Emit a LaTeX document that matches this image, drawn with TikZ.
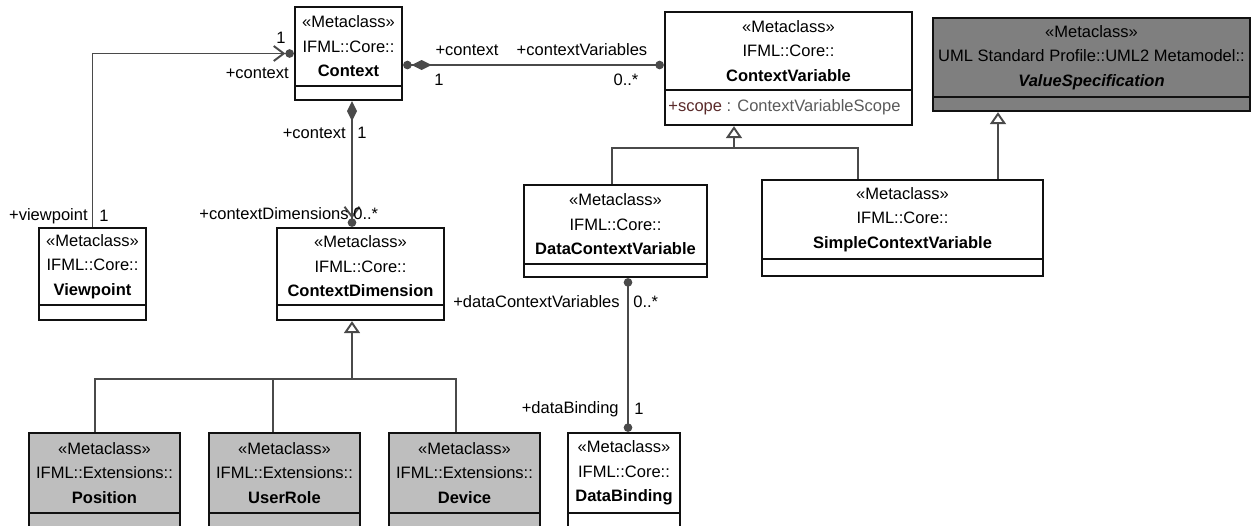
\documentclass[tikz,border=0pt]{standalone}
\usepackage{fontspec}
\setmainfont{Liberation Sans}
\usetikzlibrary{arrows.meta,fit}
\definecolor{ink}{HTML}{111111}
\definecolor{wire}{HTML}{4A4A4A}
\definecolor{extfill}{HTML}{BEBEBE}
\definecolor{umlfill}{HTML}{7F7F7F}
\definecolor{attrkey}{HTML}{5A2A2A}
\definecolor{attrtype}{HTML}{5A5A5A}

\begin{document}
\begin{tikzpicture}[x=0.02cm, y=-0.02cm, font=\fontsize{9.4}{13.9}\selectfont,
    cls/.style={draw=ink, line width=1.3pt, fill=white, inner sep=0pt},
    ext/.style={cls, fill=extfill},
    sep/.style={ink, line width=1.3pt},
    ctext/.style={align=center, inner sep=0pt},
    wirel/.style={wire, line width=1.1pt},
    role/.style={inner sep=0pt}]
  \useasboundingbox (0,0) rectangle (1252,525);
  \clip (0,0) rectangle (1252,525);

  % classes
  \node[cls, fit={(295,7)(402,100)}] (ctx) {};
  \draw[sep] (295,86) -- (402,86);
  \node[ctext] (ctx-t) at (348.5,46.5) {«Metaclass»\\IFML::Core::\\\textbf{Context}};

  \node[cls, fit={(665,12)(912,125)}] (cv) {};
  \draw[sep] (665,90) -- (912,90);
  \node[ctext] (cv-t) at (788.5,51) {«Metaclass»\\IFML::Core::\\\textbf{ContextVariable}};
  \node[ctext, anchor=west] (cv-a) at (668,107.5) {\textcolor{attrkey}{+scope} \textcolor{attrtype}{: ContextVariableScope}};

  \node[cls, fill=umlfill, fit={(933,18)(1250,111)}] (vs) {};
  \draw[sep] (933,97) -- (1250,97);
  \node[ctext] (vs-t) at (1091.5,57.5) {«Metaclass»\\UML Standard Profile::UML2 Metamodel::\\\textbf{\textit{ValueSpecification}}};

  \node[cls, fit={(39,228)(146,320)}] (vp) {};
  \draw[sep] (39,305) -- (146,305);
  \node[ctext] (vp-t) at (92.5,266.5) {«Metaclass»\\IFML::Core::\\\textbf{Viewpoint}};

  \node[cls, fit={(277,228)(444,320)}] (cd) {};
  \draw[sep] (277,305) -- (444,305);
  \node[ctext] (cd-t) at (360.5,266.5) {«Metaclass»\\IFML::Core::\\\textbf{ContextDimension}};

  \node[cls, fit={(524,185)(707,277)}] (dcv) {};
  \draw[sep] (524,264) -- (707,264);
  \node[ctext] (dcv-t) at (615.5,224.5) {«Metaclass»\\IFML::Core::\\\textbf{DataContextVariable}};

  \node[cls, fit={(762,180)(1043,276)}] (scv) {};
  \draw[sep] (762,259) -- (1043,259);
  \node[ctext] (scv-t) at (902.5,219.5) {«Metaclass»\\IFML::Core::\\\textbf{SimpleContextVariable}};

  \node[ext, fit={(29,433)(180,540)}] (pos) {};
  \draw[sep] (29,513) -- (180,513);
  \node[ctext] (pos-t) at (104.5,473) {«Metaclass»\\IFML::Extensions::\\\textbf{Position}};

  \node[ext, fit={(209,433)(360,540)}] (ur) {};
  \draw[sep] (209,513) -- (360,513);
  \node[ctext] (ur-t) at (284.5,473) {«Metaclass»\\IFML::Extensions::\\\textbf{UserRole}};

  \node[ext, fit={(389,433)(540,540)}] (dev) {};
  \draw[sep] (389,513) -- (540,513);
  \node[ctext] (dev-t) at (464.5,473) {«Metaclass»\\IFML::Extensions::\\\textbf{Device}};

  \node[cls, fit={(568,433)(680,540)}] (db) {};
  \draw[sep] (568,513) -- (680,513);
  \node[ctext] (db-t) at (624,473) {«Metaclass»\\IFML::Core::\\\textbf{DataBinding}};

  % associations
  \coordinate (cvy) at (0,65);
  \coordinate (cdx) at (352,0);
  \coordinate (dbx) at (628,0);
  \draw[wirel, -{Straight Barb[length=0.2cm,width=0.3cm] Circle[length=0.17cm]}] (vp.north) |- (ctx.west);
  \draw[wirel, {Circle[length=0.17cm] Diamond[length=0.4cm,width=0.2cm]}-{Circle[length=0.17cm]}] (ctx.east |- cvy) -- (cv.west |- cvy);
  \draw[wirel, {Diamond[length=0.4cm,width=0.2cm]}-{Straight Barb[length=0.2cm,width=0.3cm] Circle[length=0.17cm]}] (ctx.south -| cdx) -- (cd.north -| cdx);
  \draw[wirel, {Circle[length=0.17cm]}-{Circle[length=0.17cm]}] (dcv.south -| dbx) -- (db.north -| dbx);

  \node[role] (m-ctx1) at (281,38) {1};
  \node[role, anchor=east] (r-ctx1) at (289,73) {+context};
  \node[role, anchor=east] (r-vp) at (88,216) {+viewpoint};
  \node[role, anchor=west] (m-vp) at (99,216) {1};
  \node[role] (r-ctx2) at (467,50) {+context};
  \node[role] (r-cv) at (582,50) {+contextVariables};
  \node[role] (m-ctx2) at (439,80) {1};
  \node[role] (m-cv) at (626,80) {0..*};
  \node[role, anchor=east] (r-ctx3) at (346,133) {+context};
  \node[role, anchor=west] (m-ctx3) at (357,133) {1};
  \node[role, anchor=east] (r-cd) at (349,214) {+contextDimensions};
  \node[role, anchor=west] (m-cd) at (353,214) {0..*};
  \node[role, anchor=east] (r-dcv) at (620,302) {+dataContextVariables};
  \node[role, anchor=west] (m-dcv) at (633,302) {0..*};
  \node[role, anchor=east] (r-db) at (619,409) {+dataBinding};
  \node[role, anchor=west] (m-db) at (634,409) {1};

  % generalizations
  \coordinate (gp) at (95,379);
  \coordinate (gu) at (273,379);
  \coordinate (gd) at (456,379);
  \coordinate (gc) at (352,379);
  \draw[wirel] (pos.north -| gp) -- (gp) -- (gd) -- (dev.north -| gd);
  \draw[wirel] (ur.north -| gu) -- (gu);
  \draw[wirel, -{Triangle[open,length=0.24cm,width=0.32cm]}] (gc) -- (gc |- cd.south);

  \coordinate (gl) at (612,148);
  \coordinate (gr) at (858,148);
  \coordinate (gm) at (734,148);
  \draw[wirel] (dcv.north -| gl) -- (gl) -- (gr) -- (scv.north -| gr);
  \draw[wirel, -{Triangle[open,length=0.24cm,width=0.32cm]}] (gm) -- (gm |- cv.south);

  \coordinate (gv) at (998,0);
  \draw[wirel, -{Triangle[open,length=0.24cm,width=0.32cm]}] (scv.north -| gv) -- (vs.south -| gv);
\end{tikzpicture}
\end{document}
